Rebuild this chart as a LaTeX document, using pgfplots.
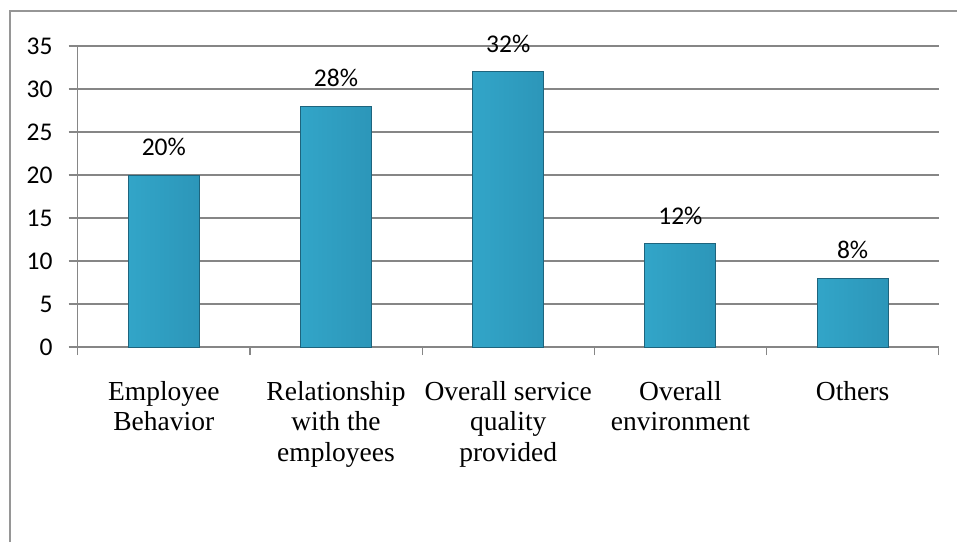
\documentclass[border=0pt]{standalone}
\usepackage{fontspec}
\setmainfont{Liberation Serif}
\newfontfamily\calibri{Carlito}
\usepackage{pgfplots}
\pgfplotsset{compat=1.18}
\definecolor{gridgray}{RGB}{134,134,134}
\definecolor{framegray}{RGB}{150,150,150}
\definecolor{barmid}{RGB}{62,186,220}
\definecolor{barleft}{RGB}{50,165,200}
\definecolor{barright}{RGB}{44,150,185}
\definecolor{bardraw}{RGB}{30,100,125}
\begin{document}
\begin{tikzpicture}[x=1pt,y=1pt]
\path[use as bounding box] (0,0) rectangle (957,542);
\draw[framegray, line width=2.5pt] (10,0) -- (10,531) -- (957,531);
\begin{axis}[
  at={(77.7pt,195pt)}, anchor=south west,
  scale only axis, width=861pt, height=301pt,
  xmin=-0.5, xmax=4.5, ymin=0, ymax=35,
  clip=false,
  ytick={0,5,...,35},
  axis x line*=bottom, axis y line*=left,
  axis line style={gridgray, line width=1.2pt, -},
  ymajorgrids, grid style={gridgray, line width=1.2pt},
  tick align=outside, major tick length=9pt, minor tick length=8pt,
  tick style={gridgray, line width=1.2pt},
  xtick={0,...,4},
  minor xtick={-0.5,0.5,...,4.5},
  major x tick style={draw=none},
  xticklabels={{Employee\\Behavior},{Relationship\\with the\\employees},{Overall service\\quality\\provided},{Overall\\environment},{Others}},
  xticklabel style={font=\fontsize{27.5}{30.5}\selectfont, align=center, inner sep=0pt, yshift=-25pt},
  yticklabel style={font=\calibri\fontsize{25.5}{25.5}\selectfont, inner sep=0pt, xshift=-16pt},
  /pgf/number format/assume math mode=true,
  ybar, bar width=71pt, bar shift=0pt,
  nodes near coords,
  point meta=explicit symbolic,
  every node near coord/.append style={font=\calibri\fontsize{25.5}{25.5}\selectfont, inner sep=0pt, anchor=south, yshift=19pt, black},
]
\pgfplotsset{barsty/.style={draw=bardraw, line width=1pt, left color=barleft, middle color=barmid, right color=barright}}
\addplot[barsty] coordinates {(0,20) [20\%]};
\addplot[barsty] coordinates {(1,28) [28\%]};
\addplot[barsty] coordinates {(2,32) [32\%]};
\addplot[barsty] coordinates {(3,12) [12\%]};
\addplot[barsty] coordinates {(4,8) [8\%]};
\end{axis}
\end{tikzpicture}
\end{document}
